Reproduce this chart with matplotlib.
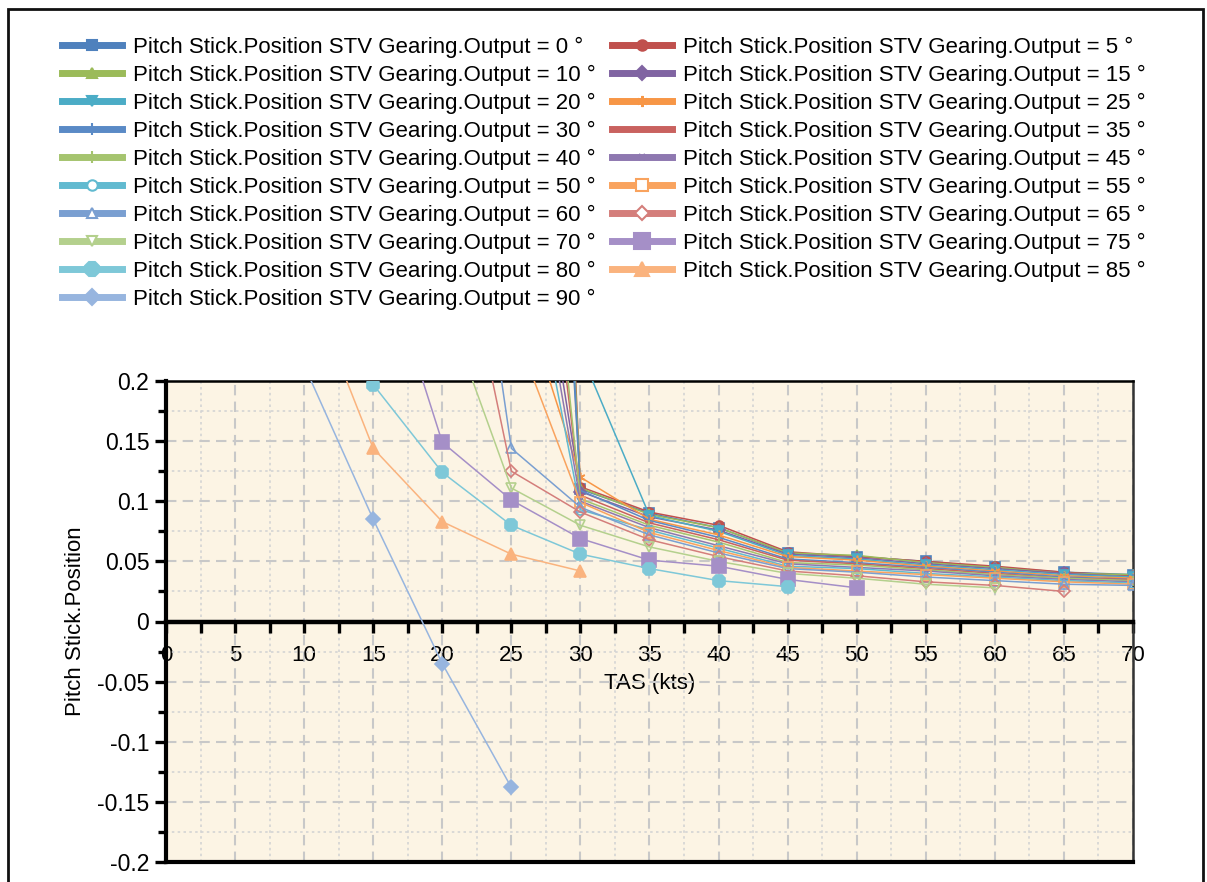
import numpy as np
import matplotlib
matplotlib.use("Agg")
import matplotlib.pyplot as plt
from matplotlib.lines import Line2D
from matplotlib.patches import Rectangle
from matplotlib.ticker import MultipleLocator, FuncFormatter

plt.rcParams['font.family'] = ['Liberation Sans', 'DejaVu Sans']

nan = np.nan

# TAS (kts) sample points
tas = [10, 15, 20, 25, 30, 35, 40, 45, 50, 55, 60, 65, 70]

# Pitch stick position per STV gearing output (deg)
gearing = [0, 5, 10, 15, 20, 25, 30, 35, 40, 45, 50, 55, 60, 65, 70, 75, 80, 85, 90]

pos_00 = [nan, nan, nan, 1.10, 0.110, 0.090, 0.078, 0.057, 0.054, 0.050, 0.045, 0.041, 0.039]
pos_05 = [nan, nan, nan, 1.40, 0.112, 0.091, 0.080, 0.058, 0.054, 0.050, 0.046, 0.041, 0.038]
pos_10 = [nan, nan, nan, 1.30, 0.111, 0.089, 0.078, 0.057, 0.055, 0.049, 0.045, 0.040, 0.039]
pos_15 = [nan, nan, nan, 0.47, 0.108, 0.087, 0.076, 0.056, 0.053, 0.048, 0.044, 0.040, 0.037]
pos_20 = [nan, nan, nan, 1.50, 0.224, 0.088, 0.075, 0.055, 0.052, 0.047, 0.043, 0.039, 0.037]
pos_25 = [nan, nan, nan, 0.30, 0.120, 0.085, 0.072, 0.054, 0.051, 0.046, 0.042, 0.038, 0.036]
pos_30 = [nan, nan, nan, 1.20, 0.109, 0.084, 0.070, 0.052, 0.049, 0.045, 0.041, 0.037, 0.035]
pos_35 = [nan, nan, nan, 0.58, 0.105, 0.082, 0.068, 0.051, 0.048, 0.044, 0.040, 0.036, 0.035]
pos_40 = [nan, nan, nan, 0.65, 0.102, 0.080, 0.066, 0.049, 0.047, 0.043, 0.039, 0.036, 0.034]
pos_45 = [nan, nan, nan, 0.43, 0.100, 0.078, 0.063, 0.048, 0.045, 0.042, 0.038, 0.035, 0.033]
pos_50 = [nan, nan, nan, 0.39, 0.093, 0.076, 0.061, 0.046, 0.044, 0.040, 0.037, 0.034, 0.032]
pos_55 = [nan, nan, nan, 0.25, 0.099, 0.074, 0.059, 0.045, 0.042, 0.039, 0.036, 0.033, 0.031]
pos_60 = [nan, nan, 0.54, 0.144, 0.095, 0.072, 0.057, 0.044, 0.041, 0.037, 0.034, 0.031, 0.030]
pos_65 = [nan, nan, 0.40, 0.125, 0.091, 0.068, 0.054, 0.042, 0.038, 0.033, 0.030, 0.025, nan]
pos_70 = [nan, nan, 0.27, 0.111, 0.080, 0.062, 0.050, 0.040, 0.036, 0.031, 0.028, nan, nan]
pos_75 = [nan, 0.33, 0.149, 0.101, 0.069, 0.051, 0.046, 0.035, 0.028, nan, nan, nan, nan]
pos_80 = [0.40, 0.197, 0.124, 0.080, 0.056, 0.044, 0.034, 0.029, nan, nan, nan, nan, nan]
pos_85 = [0.29, 0.144, 0.083, 0.056, 0.042, nan, nan, nan, nan, nan, nan, nan, nan]
pos_90 = [0.213, 0.085, -0.035, -0.138, nan, nan, nan, nan, nan, nan, nan, nan, nan]

series = [pos_00, pos_05, pos_10, pos_15, pos_20, pos_25, pos_30, pos_35, pos_40, pos_45,
          pos_50, pos_55, pos_60, pos_65, pos_70, pos_75, pos_80, pos_85, pos_90]

colors = ['#4f81bd', '#c0504d', '#9bbb59', '#8064a2', '#4bacc6', '#f79646',
          '#5a8ac6', '#c9625f', '#a5c46f', '#8e78b0', '#61bad0', '#f9a35e',
          '#7a9fd1', '#d47e7b', '#b4d08d', '#a58fc7', '#7ec8d8', '#fab37e', '#97b5df']
markers = ['s', 'o', '^', 'D', 'v', (6, 2, 0), '|', '_', '|', 'x',
           'o', 's', '^', 'D', 'v', 's', '8', '^', 'D']
msizes = [6.5, 6.5, 6.5, 6, 6.5, 7, 7, 6, 7, 4,
          6.5, 7, 6.5, 6, 6.5, 10, 10, 9, 7]
hollow = [False] * 10 + [True] * 5 + [False] * 4

fig = plt.figure(figsize=(12.07, 8.82), dpi=100)
ax = fig.add_axes([166 / 1207, 1 - 862 / 882, (1133 - 166) / 1207, (862 - 381) / 882])
ax.set_facecolor('#fcf4e4')

handles = []
for g, vals, c, m, ms, h in zip(gearing, series, colors, markers, msizes, hollow):
    fc = 'none' if h else c
    ax.plot(tas, vals, color=c, lw=1.1, marker=m, ms=ms, mfc=fc, mec=c, mew=1.2, zorder=3)
    handles.append(Line2D([], [], color=c, lw=5, marker=m, ms=ms + 1,
                          mfc=('white' if h else c), mec=c, mew=1.5))
labels = ['Pitch Stick.Position STV Gearing.Output = %d °' % g for g in gearing]

ax.set_xlim(0, 70)
ax.set_ylim(-0.2, 0.2)
ax.xaxis.set_major_locator(MultipleLocator(5))
ax.xaxis.set_minor_locator(MultipleLocator(2.5))
ax.yaxis.set_major_locator(MultipleLocator(0.05))
ax.yaxis.set_minor_locator(MultipleLocator(0.025))
ax.yaxis.set_major_formatter(FuncFormatter(lambda v, p: '{:g}'.format(round(v, 3))))
ax.xaxis.set_major_formatter(FuncFormatter(lambda v, p: '{:g}'.format(v)))

ax.set_axisbelow(True)
ax.grid(which='major', color='#c8c8c8', lw=1.5, ls=(0, (5, 3)))
ax.grid(which='minor', color='#d4d4d4', lw=1.2, ls=(0, (1.5, 2)))

ax.spines['bottom'].set_position(('data', 0))
ax.spines['bottom'].set_linewidth(3.2)
ax.spines['left'].set_linewidth(3)
ax.spines['top'].set_linewidth(1.8)
ax.spines['right'].set_linewidth(1.8)
ax.spines['right'].set_color('#333333')
ax.axhline(-0.2, color='black', lw=3, clip_on=False, zorder=5)

ax.tick_params(axis='x', which='both', direction='out', length=8, width=2.4,
               labelsize=16, pad=9)
ax.tick_params(axis='y', which='major', direction='out', length=8, width=2.4,
               labelsize=16.5, pad=4)
ax.tick_params(axis='y', which='minor', direction='out', length=6, width=2.4)

ax.set_xlabel('TAS (kts)', fontsize=16)
ax.xaxis.set_label_coords(0.5, (862 - 683) / 481)
ax.xaxis.label.set_va('center')
ax.set_ylabel('Pitch Stick.Position', fontsize=16)
ax.yaxis.set_label_coords((75 - 166) / 967, 0.5)
ax.yaxis.label.set_va('center')

left_idx = list(range(0, 19, 2))
right_idx = list(range(1, 19, 2))
for idx, x0 in [(left_idx, 62), (right_idx, 612)]:
    fig.legend([handles[i] for i in idx], [labels[i] for i in idx],
               loc='upper left', bbox_to_anchor=(x0 / 1207, 1 - 37 / 882),
               frameon=False, fontsize=16, borderpad=0, borderaxespad=0,
               handlelength=2.7, handletextpad=0.5, labelspacing=0.31)

fig.add_artist(Rectangle((8 / 1207, -0.05), (1203 - 8) / 1207, 1.05 - 9 / 882,
                         transform=fig.transFigure, fill=False, lw=2, ec='#111111'))

fig.savefig('out.png', dpi=100)
